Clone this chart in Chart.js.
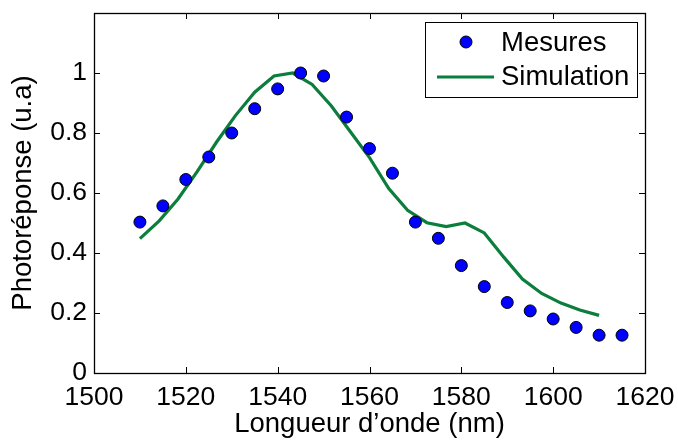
<!DOCTYPE html>
<html>
<head>
<meta charset="utf-8">
<script src="https://cdn.jsdelivr.net/npm/chart.js@4/dist/chart.umd.min.js"></script>
<style>
html,body{margin:0;padding:0;background:#fff;}
#wrap{width:678px;height:441px;position:relative;}
</style>
</head>
<body>
<div id="wrap"><canvas id="c" width="678" height="441"></canvas></div>
<script>
// Measured data (Mesures)
const mesuresX = [1510,1515,1520,1525,1530,1535,1540,1545,1550,1555,1560,1565,1570,1575,1580,1585,1590,1595,1600,1605,1610,1615];
const mesuresY = [0.503,0.557,0.645,0.72,0.80,0.881,0.947,1.0,0.99,0.853,0.748,0.666,0.503,0.449,0.358,0.288,0.235,0.207,0.18,0.152,0.126,0.126];
// Simulation curve
const simX = [1510,1514.2,1518.3,1522.5,1526.7,1530.8,1535,1539.2,1543.3,1547.5,1551.7,1555.8,1560,1564.2,1568.3,1572.5,1576.7,1580.8,1585,1589.2,1593.3,1597.5,1601.7,1605.8,1610];
const simY = [0.448,0.507,0.58,0.672,0.77,0.858,0.936,0.99,1.0,0.962,0.89,0.805,0.718,0.615,0.542,0.501,0.488,0.50,0.467,0.387,0.313,0.265,0.233,0.21,0.192];
const xTickValues = [1500,1520,1540,1560,1580,1600,1620];
const yTickValues = [0,0.2,0.4,0.6,0.8,1];
const seriesLabels = ['Mesures','Simulation'];

const FONT = "'Liberation Sans', Arial, Helvetica, sans-serif";
const GREEN = '#0b7d3c';

const toPts = (xs, ys) => xs.map((x,i)=>({x:x,y:ys[i]}));

const frame = {
  id:'frame',
  beforeDatasetsDraw(chart){
    const {ctx, chartArea:a, scales} = chart;
    ctx.save();
    ctx.strokeStyle='#000';
    ctx.lineWidth=1;
    const L=6;
    ctx.beginPath();
    xTickValues.forEach(v=>{
      const px=Math.round(scales.x.getPixelForValue(v))+0.5;
      ctx.moveTo(px,a.bottom); ctx.lineTo(px,a.bottom-L);
      ctx.moveTo(px,a.top); ctx.lineTo(px,a.top+L);
    });
    yTickValues.forEach(v=>{
      const py=Math.round(scales.y.getPixelForValue(v))+0.5;
      ctx.moveTo(a.left,py); ctx.lineTo(a.left+L,py);
      ctx.moveTo(a.right,py); ctx.lineTo(a.right-L,py);
    });
    ctx.stroke();
    ctx.lineWidth=1.3;
    ctx.strokeRect(Math.round(a.left)+0.5,Math.round(a.top)+0.5,Math.round(a.right-a.left),Math.round(a.bottom-a.top));
    ctx.restore();
  },
  afterDraw(chart){
    const {ctx} = chart;
    const ds = chart.data.datasets;
    const bx=425, by=22, bw=212, bh=75;
    ctx.save();
    ctx.fillStyle='#fff';
    ctx.fillRect(bx,by,bw,bh);
    ctx.strokeStyle='#000';
    ctx.lineWidth=1;
    ctx.strokeRect(bx+0.5,by+0.5,bw,bh);
    ctx.font='27.5px '+FONT;
    ctx.textBaseline='middle';
    // row 1
    ctx.beginPath();
    ctx.arc(466,42,6,0,Math.PI*2);
    ctx.fillStyle=ds[0].backgroundColor; ctx.fill();
    ctx.strokeStyle='#000'; ctx.lineWidth=1; ctx.stroke();
    ctx.fillStyle='#000';
    ctx.fillText(ds[0].label,501,43);
    // row 2
    ctx.beginPath();
    ctx.moveTo(437,77); ctx.lineTo(494,77);
    ctx.strokeStyle=ds[1].borderColor; ctx.lineWidth=3; ctx.stroke();
    ctx.fillStyle='#000';
    ctx.fillText(ds[1].label,501,77);
    ctx.restore();
  }
};

new Chart(document.getElementById('c'),{
  type:'scatter',
  data:{
    datasets:[
      {label:seriesLabels[0], data:toPts(mesuresX,mesuresY), showLine:false,
       pointRadius:6, pointHoverRadius:6, backgroundColor:'#0000ff', borderColor:'#000', borderWidth:1},
      {label:seriesLabels[1], data:toPts(simX,simY), showLine:true, pointRadius:0,
       borderColor:GREEN, backgroundColor:GREEN, borderWidth:3.2, tension:0}
    ]
  },
  options:{
    responsive:false, animation:false,
    layout:{padding:{top:13,right:33,bottom:0,left:0}},
    plugins:{legend:{display:false}, tooltip:{enabled:false}},
    scales:{
      x:{
        type:'linear', min:1500, max:1620,
        afterBuildTicks(s){ s.ticks = xTickValues.map(v=>({value:v})); },
        afterFit(s){ s.height = 68; s.paddingLeft = 0; s.paddingRight = 0; },
        grid:{display:false, drawTicks:false},
        border:{display:false},
        ticks:{font:{family:FONT,size:26.5}, color:'#000', padding:9, maxRotation:0, autoSkip:false,
               callback:(v)=>String(v)},
        title:{display:true, text:'Longueur d\u2019onde (nm)', font:{family:FONT,size:27.5}, color:'#000', padding:{top:0,bottom:0}}
      },
      y:{
        type:'linear', min:0, max:1.2,
        afterBuildTicks(s){ s.ticks = yTickValues.map(v=>({value:v})); },
        afterFit(s){ s.width = 94; s.paddingTop = 0; s.paddingBottom = 0; },
        grid:{display:false, drawTicks:false},
        border:{display:false},
        ticks:{font:{family:FONT,size:26.5}, color:'#000', padding:7, autoSkip:false,
               callback:(v)=>String(Math.round(v*10)/10)},
        title:{display:true, text:'Photoréponse (u.a)', font:{family:FONT,size:27.5}, color:'#000', padding:{top:7,bottom:0}}
      }
    }
  },
  plugins:[frame]
});
</script>
</body>
</html>
